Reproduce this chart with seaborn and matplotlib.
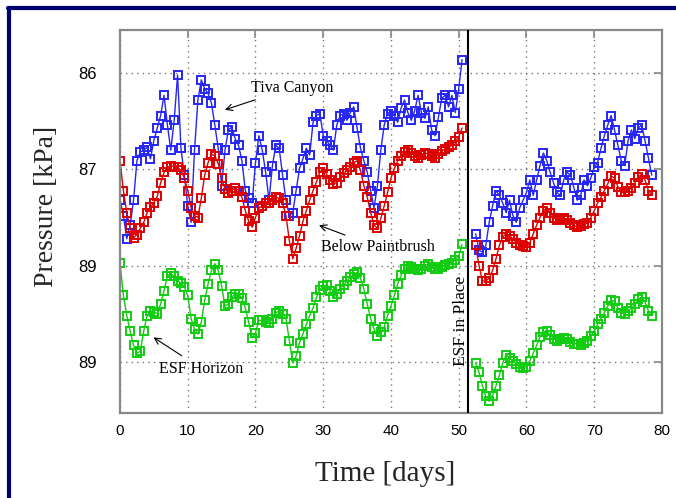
import numpy as np
import pandas as pd
import matplotlib
matplotlib.use("Agg")
import matplotlib.pyplot as plt
from matplotlib.lines import Line2D
import seaborn as sns

# sampling times (days), before and after the ESF arrived
days_before = np.arange(0, 51, 0.5)
days_after = np.arange(52.5, 79, 0.5)
esf_day = 51.4

tiva_before = [
    87.32, 87.48, 87.72, 87.58, 87.32, 86.91, 86.82, 86.80, 86.77, 86.89,
    86.70, 86.57, 86.44, 86.23, 86.54, 86.80, 86.49, 86.02, 86.78, 87.06,
    87.38, 87.55, 86.80, 86.28, 86.07, 86.16, 86.21, 86.31, 86.54, 86.78,
    87.17, 86.80, 86.59, 86.56, 86.68, 86.75, 86.91, 87.22, 87.30, 87.35,
    86.93, 86.65, 86.80, 87.03, 87.32, 86.96, 86.75, 86.78, 87.06, 87.32,
    87.48, 87.45, 87.22, 86.99, 86.89, 86.78, 86.85, 86.51, 86.44, 86.42,
    86.65, 86.70, 86.75, 86.80, 86.54, 86.44, 86.42, 86.49, 86.41, 86.35,
    86.57, 86.78, 86.91, 87.03, 87.22, 87.40, 87.17, 86.80, 86.54, 86.42,
    86.39, 86.44, 86.51, 86.36, 86.28, 86.41, 86.49, 86.39, 86.23, 86.41,
    86.47, 86.35, 86.59, 86.65, 86.46, 86.26, 86.23, 86.35, 86.23, 86.41,
    86.16, 85.86,
]
tiva_after = [
    87.67, 87.84, 87.86, 87.79, 87.55, 87.38, 87.22, 87.27, 87.35, 87.45,
    87.32, 87.48, 87.55, 87.40, 87.32, 87.24, 87.11, 87.27, 87.11, 86.96,
    86.83, 86.91, 87.03, 87.14, 87.24, 87.27, 87.11, 87.03, 87.06, 87.19,
    87.32, 87.27, 87.11, 87.17, 87.09, 86.98, 86.93, 86.78, 86.65, 86.54,
    86.44, 86.59, 86.75, 86.91, 86.96, 86.70, 86.59, 86.68, 86.57, 86.54,
    86.70, 86.88, 87.06,
]

paint_before = [
    86.91, 87.22, 87.45, 87.61, 87.71, 87.68, 87.61, 87.55, 87.45, 87.39,
    87.35, 87.28, 87.14, 87.03, 86.98, 86.96, 86.97, 86.98, 87.01, 87.09,
    87.22, 87.40, 87.48, 87.50, 87.30, 87.06, 86.93, 86.84, 86.86, 86.94,
    87.09, 87.20, 87.25, 87.22, 87.19, 87.22, 87.29, 87.43, 87.54, 87.60,
    87.50, 87.40, 87.38, 87.35, 87.35, 87.32, 87.29, 87.30, 87.35, 87.48,
    87.74, 87.93, 87.82, 87.69, 87.54, 87.43, 87.32, 87.22, 87.13, 87.03,
    86.99, 87.05, 87.11, 87.15, 87.14, 87.08, 87.04, 87.01, 86.97, 86.93,
    86.91, 87.01, 87.17, 87.29, 87.45, 87.58, 87.61, 87.51, 87.38, 87.24,
    87.09, 86.99, 86.91, 86.86, 86.82, 86.80, 86.83, 86.86, 86.88, 86.85,
    86.83, 86.84, 86.86, 86.88, 86.84, 86.81, 86.79, 86.77, 86.75, 86.71,
    86.66, 86.57,
]
paint_after = [
    87.79, 88.00, 88.16, 88.16, 88.13, 88.05, 87.93, 87.79, 87.70, 87.67,
    87.69, 87.72, 87.76, 87.79, 87.80, 87.81, 87.76, 87.67, 87.58, 87.50,
    87.43, 87.40, 87.45, 87.50, 87.53, 87.52, 87.51, 87.53, 87.56, 87.58,
    87.60, 87.59, 87.57, 87.56, 87.50, 87.43, 87.35, 87.29, 87.22, 87.15,
    87.07, 87.09, 87.18, 87.24, 87.24, 87.22, 87.19, 87.14, 87.08, 87.05,
    87.11, 87.22, 87.27,
]

esf_before = [
    87.97, 88.31, 88.52, 88.68, 88.83, 88.91, 88.89, 88.68, 88.52, 88.47,
    88.48, 88.50, 88.40, 88.26, 88.11, 88.08, 88.11, 88.16, 88.18, 88.22,
    88.31, 88.55, 88.66, 88.71, 88.59, 88.36, 88.19, 88.05, 87.98, 88.05,
    88.21, 88.42, 88.40, 88.33, 88.29, 88.29, 88.34, 88.44, 88.59, 88.75,
    88.70, 88.57, 88.57, 88.59, 88.60, 88.55, 88.49, 88.47, 88.50, 88.55,
    88.78, 89.01, 88.94, 88.80, 88.71, 88.61, 88.52, 88.44, 88.33, 88.25,
    88.21, 88.20, 88.26, 88.33, 88.29, 88.24, 88.20, 88.16, 88.12, 88.09,
    88.07, 88.13, 88.24, 88.40, 88.55, 88.66, 88.73, 88.69, 88.64, 88.52,
    88.42, 88.31, 88.19, 88.10, 88.03, 88.00, 88.01, 88.03, 88.05, 88.03,
    88.00, 87.98, 88.01, 88.04, 88.03, 88.01, 87.99, 87.98, 87.97, 87.94,
    87.90, 87.78,
]
esf_after = [
    89.01, 89.11, 89.25, 89.36, 89.41, 89.35, 89.25, 89.14, 89.01, 88.93,
    88.96, 88.99, 89.02, 89.05, 89.06, 89.05, 88.99, 88.91, 88.83, 88.74,
    88.69, 88.68, 88.72, 88.76, 88.78, 88.76, 88.75, 88.76, 88.79, 88.81,
    88.81, 88.82, 88.80, 88.78, 88.73, 88.68, 88.61, 88.55, 88.49, 88.42,
    88.36, 88.37, 88.44, 88.49, 88.50, 88.47, 88.44, 88.40, 88.35, 88.33,
    88.38, 88.47, 88.52,
]

x_ticks = [0, 10, 20, 30, 40, 50, 60, 70, 80]
y_ticks = [86, 87, 88, 89]
y_tick_labels = ["86", "87", "89", "89"]

series = [
    ("Tiva Canyon", tiva_before, tiva_after, "#2626f5"),
    ("Below Paintbrush", paint_before, paint_after, "#dd0000"),
    ("ESF Horizon", esf_before, esf_after, "#11cc11"),
]

sns.set_theme(style="white")
plt.rcParams["font.family"] = ["Liberation Sans", "DejaVu Sans"]

fig = plt.figure(figsize=(6.76, 4.98), dpi=100)
ax = fig.add_axes([0.1775, 0.171, 0.8017, 0.769])

for name, before, after, color in series:
    for days, vals in [(days_before, before), (days_after, after)]:
        df = pd.DataFrame({"day": days, "pressure": vals})
        sns.lineplot(
            data=df, x="day", y="pressure", ax=ax, color=color,
            estimator=None, sort=False, linewidth=1.0,
            marker="s", markersize=6, markerfacecolor="none",
            markeredgecolor=color, markeredgewidth=1.4, legend=False,
        )

ax.axvline(esf_day, color="black", linewidth=1.5, zorder=5)

ax.set_xlim(0, 80)
ax.set_ylim(89.53, 85.55)
ax.set_xticks(x_ticks)
ax.set_yticks(y_ticks)
ax.set_yticklabels(y_tick_labels)
ax.grid(True, color="#777777", linestyle=(0, (1, 3)), linewidth=1)
ax.tick_params(direction="in", length=6, width=1.2, color="#888888",
               top=True, right=True, labelsize=11, pad=8, labelcolor="black")
ax.tick_params(axis="y", labelsize=12, pad=17)
for sp in ax.spines.values():
    sp.set_color("#888888")
    sp.set_linewidth(1.6)

ax.set_xlabel("Time [days]", family="Liberation Serif", fontsize=21)
ax.set_ylabel("Pressure [kPa]", family="Liberation Serif", fontsize=20)
ax.xaxis.set_label_coords(0.49, -0.125)
ax.yaxis.set_label_coords(-0.112, 0.54)

serif = dict(family="Liberation Serif", fontsize=11.5, color="black")
arrow = dict(arrowstyle="->", color="black", linewidth=0.8)
ax.annotate("Tiva Canyon", xy=(15.1, 86.39), xytext=(19.3, 86.15),
            ha="left", va="center", arrowprops=arrow, **serif)
ax.annotate("Below Paintbrush", xy=(29.0, 87.57), xytext=(29.6, 87.81),
            ha="left", va="center", arrowprops=arrow, **serif)
ax.annotate("ESF Horizon", xy=(4.6, 88.73), xytext=(5.8, 89.07),
            ha="left", va="center", arrowprops=arrow, **serif)
ax.text(50.3, 88.57, "ESF in Place", rotation=90, ha="center", va="center",
        family="Liberation Serif", fontsize=12.5, color="black")

# navy frame around the figure
fig.add_artist(Line2D([0.012, 1.0], [0.984, 0.984], color="#000070", linewidth=3))
fig.add_artist(Line2D([0.014, 0.014], [0.0, 0.984], color="#000070", linewidth=3))

fig.savefig("out.png", dpi=100)
